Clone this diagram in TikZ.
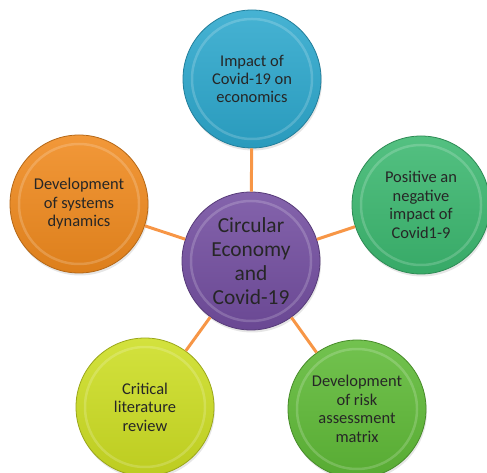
\documentclass[tikz,border=0pt]{standalone}
\usepackage{fontspec}
\setmainfont{Carlito}
\usepackage{tikz}
\usetikzlibrary{shadows}
\usepackage{xcolor}
\definecolor{hubpurple}{RGB}{115,78,160}
\definecolor{topblue}{RGB}{45,168,205}
\definecolor{sidegreen}{RGB}{60,184,112}
\definecolor{sideorange}{RGB}{240,138,30}
\definecolor{lowlime}{RGB}{205,222,35}
\definecolor{lowgreen}{RGB}{95,186,55}
\definecolor{linkorange}{RGB}{247,150,70}

\begin{document}
\begin{tikzpicture}[x=1bp,y=1bp,
  bubble/.style={circle,minimum size=138bp,inner sep=0pt,align=center,text=black!85,
    draw=#1!75!black,line width=0.8pt,top color=#1!88!white,bottom color=#1!92!black,
    drop shadow={opacity=0.2,shadow xshift=1bp,shadow yshift=-2.5bp},
    font=\fontsize{16.5}{18.5}\selectfont,
    path picture={\draw[white,opacity=0.18,line width=2.5pt] (path picture bounding box.center) circle (60bp);}},
  link/.style={draw=linkorange,line width=3pt}]
\useasboundingbox (0,0) rectangle (487,473);
\node[bubble=topblue] (econ) at (252,394) {Impact of\\Covid-19 on\\economics};
\node[bubble=sideorange] (sysdyn) at (79,269) {Development\\of systems\\dynamics};
\node[bubble=sidegreen] (posneg) at (421,268) {Positive an\\negative\\impact of\\Covid1-9};
\node[bubble=lowlime] (review) at (145,66) {Critical\\literature\\review};
\node[bubble=lowgreen] (risk) at (357,64) {Development\\of risk\\assessment\\matrix};
\node[bubble=hubpurple,font=\fontsize{21.5}{24}\selectfont] (hub) at (251,212) {Circular\\Economy\\and\\Covid-19};
% spokes
\draw[link] (hub) -- (econ);
\draw[link] (hub) -- (sysdyn);
\draw[link] (hub) -- (posneg);
\draw[link] (hub) -- (review);
\draw[link] (hub) -- (risk);
\end{tikzpicture}
\end{document}
